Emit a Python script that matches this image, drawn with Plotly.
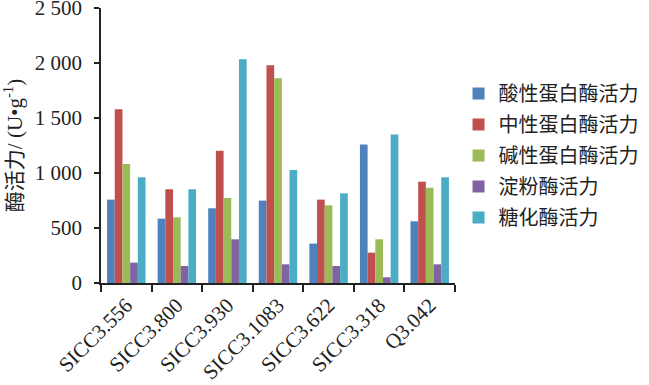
import plotly.graph_objects as go

categories = ["SICC3.556", "SICC3.800", "SICC3.930", "SICC3.1083", "SICC3.622", "SICC3.318", "Q3.042"]
series_names = ["酸性蛋白酶活力", "中性蛋白酶活力", "碱性蛋白酶活力", "淀粉酶活力", "糖化酶活力"]
acid_protease = [758, 585, 679, 749, 358, 1258, 561]
neutral_protease = [1579, 852, 1203, 1979, 758, 276, 921]
alkaline_protease = [1082, 597, 773, 1861, 706, 397, 867]
amylase = [185, 155, 397, 170, 155, 52, 170]
glucoamylase = [961, 852, 2033, 1027, 815, 1349, 961]
y_tick_vals = [0, 500, 1000, 1500, 2000, 2500]
y_tick_text = ["0", "500", "1 000", "1 500", "2 000", "2 500"]
y_title = "酶活力/ (U•g<sup>-1</sup>)"

colors = ["#4F81BD", "#C0504D", "#9BBB59", "#8064A2", "#4BACC6"]
series_values = [acid_protease, neutral_protease, alkaline_protease, amylase, glucoamylase]

fig = go.Figure()
for i, (name, vals, col) in enumerate(zip(series_names, series_values, colors)):
    fig.add_trace(go.Bar(x=categories, y=vals, name=name, legendgroup=f"g{i}",
                         marker=dict(color=col, line=dict(width=0))))

serif = "Liberation Serif, Times New Roman, Noto Sans CJK SC, serif"
fig.update_layout(
    width=649, height=385,
    margin=dict(l=101, r=194, t=8, b=102, autoexpand=False),
    paper_bgcolor="white", plot_bgcolor="white",
    barmode="group", bargap=0.24, bargroupgap=0,
    font=dict(family=serif, size=21, color="#222"),
    showlegend=True,
    legend=dict(x=1.01, y=0.76, xanchor="left", yanchor="top",
                font=dict(family="Noto Sans CJK SC, sans-serif", size=20, color="#222"),
                traceorder="grouped", tracegroupgap=2, itemwidth=30,
                bgcolor="rgba(0,0,0,0)"),
)
fig.update_xaxes(
    type="category", showline=True, linecolor="#222", linewidth=1.5,
    ticks="outside", tickson="boundaries", ticklen=7, tickcolor="#222", tickwidth=1.5,
    tickangle=-45, tickfont=dict(family=serif, size=21, color="#222"), showgrid=False,
    automargin=False, ticklabeloverflow="allow",
)
fig.update_yaxes(
    range=[0, 2500], tickvals=y_tick_vals, ticktext=y_tick_text,
    showline=True, linecolor="#222", linewidth=1.5,
    ticks="outside", ticklen=5, tickcolor="#222", tickwidth=1.5, ticklabelstandoff=8,
    tickfont=dict(family=serif, size=21, color="#222"), showgrid=False, zeroline=False,
    automargin=False, ticklabeloverflow="allow",
    title=dict(text=y_title, font=dict(family=serif, size=21, color="#222"), standoff=22),
)
# remove the browser's default 8px body margin so the figure fills the window exactly
fig.write_html("out.html", config={"displayModeBar": False},
               post_script="document.body.style.margin='0';document.body.style.overflow='hidden';")
